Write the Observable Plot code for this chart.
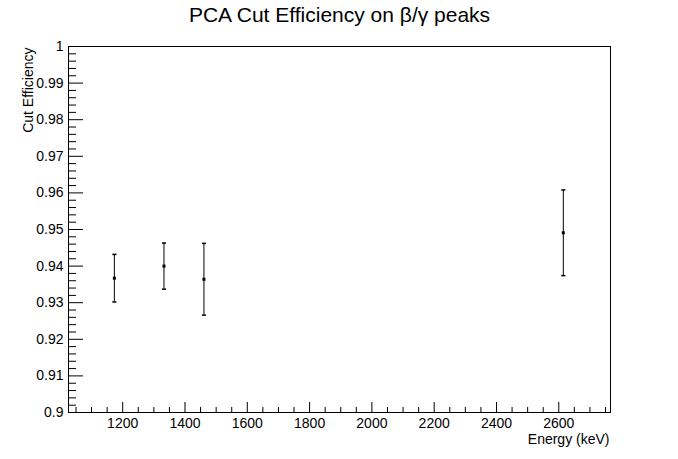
<!DOCTYPE html>
<html><head><meta charset="utf-8">
<script src="https://cdn.jsdelivr.net/npm/d3@7"></script>
<script src="https://cdn.jsdelivr.net/npm/@observablehq/plot@0.6"></script>
<style>body{margin:0;background:#fff;} svg{display:block;}</style>
</head><body><div id="chart"></div>
<script>
const title = "PCA Cut Efficiency on β/γ peaks";
const xLabel = "Energy (keV)";
const yLabel = "Cut Efficiency";
const energies = [1173.2, 1332.5, 1460.8, 2614.5];
const efficiency = [0.9367, 0.9400, 0.9364, 0.9491];
const errors = [0.0065, 0.0063, 0.0098, 0.0117];
const xDomain = [1026, 2766];
const yDomain = [0.9, 1.0];
const xMajorTicks = [1200, 1400, 1600, 1800, 2000, 2200, 2400, 2600];
const xTickLabels = ["1200", "1400", "1600", "1800", "2000", "2200", "2400", "2600"];
const yMajorTicks = [0.9, 0.91, 0.92, 0.93, 0.94, 0.95, 0.96, 0.97, 0.98, 0.99, 1.0];
const yTickLabels = ["0.9", "0.91", "0.92", "0.93", "0.94", "0.95", "0.96", "0.97", "0.98", "0.99", "1"];
const xMinorTicks = d3.range(1050, 2751, 50).filter(v => v % 200 !== 0);
const yMinorTicks = d3.range(0, 51).filter(i => i % 5 !== 0).map(i => 0.9 + i * 0.002);

const points = energies.map((e, i) => ({e, v: efficiency[i], err: errors[i]}));
const xLab = new Map(xMajorTicks.map((t, i) => [t, xTickLabels[i]]));
const yLab = new Map(yMajorTicks.map((t, i) => [t, yTickLabels[i]]));

const W = 678, H = 459, mL = 68, mR = 68, mT = 46, mB = 47;
const fw = W - mL - mR, fh = H - mT - mB;
const capSymbol = {draw(ctx, size) { const w = Math.sqrt(size) / 2; ctx.moveTo(-w, 0); ctx.lineTo(w, 0); }};
const font = '"Liberation Sans", Arial, Helvetica, sans-serif';

const chart = Plot.plot({
  width: W, height: H, marginLeft: mL, marginRight: mR, marginTop: mT, marginBottom: mB,
  style: {fontFamily: font, fontSize: "14px", background: "white", color: "black"},
  x: {domain: xDomain},
  y: {domain: yDomain},
  marks: [
    Plot.tickY(yMajorTicks, {y: d => d, insetRight: fw - 15, stroke: "black"}),
    Plot.tickY(yMinorTicks, {y: d => d, insetRight: fw - 8, stroke: "black"}),
    Plot.tickX(xMajorTicks, {x: d => d, insetTop: fh - 10, stroke: "black"}),
    Plot.tickX(xMinorTicks, {x: d => d, insetTop: fh - 5, stroke: "black"}),
    Plot.frame({stroke: "black"}),
    Plot.axisX({ticks: xMajorTicks, tickSize: 0, tickPadding: 6, tickFormat: d => xLab.get(d), label: null, fontSize: 14}),
    Plot.axisY({ticks: yMajorTicks, tickSize: 0, tickPadding: 5, tickFormat: d => yLab.get(d), label: null, fontSize: 14}),
    Plot.ruleX(points, {x: "e", y1: d => d.v - d.err, y2: d => d.v + d.err, stroke: "black", strokeWidth: 1}),
    Plot.dot(points, {x: "e", y: d => d.v + d.err, symbol: capSymbol, r: 2.3, stroke: "black", fill: "none"}),
    Plot.dot(points, {x: "e", y: d => d.v - d.err, symbol: capSymbol, r: 2.3, stroke: "black", fill: "none"}),
    Plot.dot(points, {x: "e", y: "v", symbol: "square", r: 1.7, fill: "black", stroke: null}),
    Plot.text([title], {frameAnchor: "top", dy: -24.3, lineAnchor: "bottom", fontSize: 21, fill: "black", letterSpacing: "0.5px"}),
    Plot.text([xLabel], {frameAnchor: "bottom-right", textAnchor: "end", lineAnchor: "bottom", dy: 31, dx: -1, fontSize: 14, fill: "black"}),
    Plot.text([yLabel], {frameAnchor: "top-left", rotate: -90, textAnchor: "end", lineAnchor: "bottom", dx: -35.5, dy: 1, fontSize: 14, fill: "black"})
  ]
});
document.getElementById("chart").appendChild(chart);
</script>
</body></html>
